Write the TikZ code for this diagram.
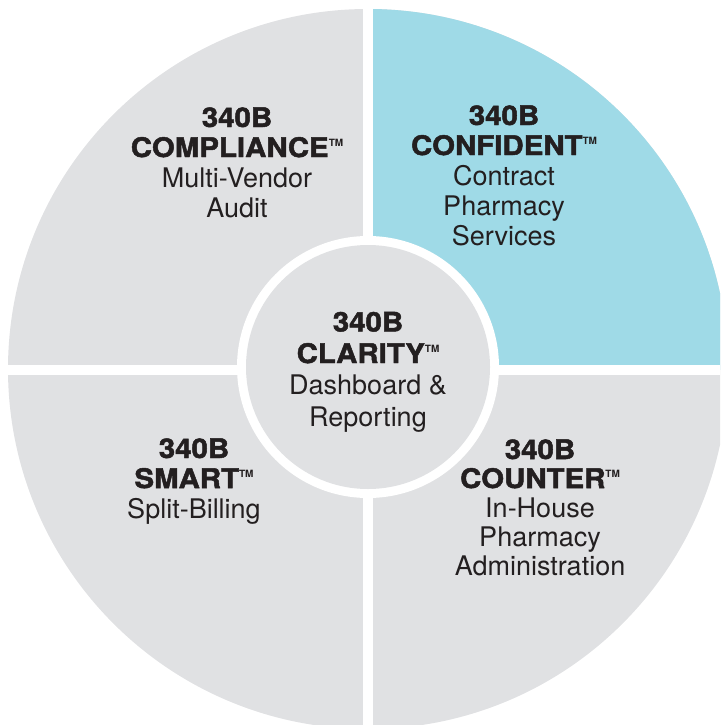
\documentclass[tikz,border=0pt]{standalone}
\usepackage{fontspec}
\setmainfont{TeX Gyre Heros}
\newfontfamily\heavyfont[FakeStretch=1.09,FakeBold=1.8]{TeX Gyre Heros Bold}
\newcommand{\hv}[1]{{\heavyfont #1}}
\newcommand{\tmk}{\raisebox{11pt}{\fontsize{10}{10}\selectfont\bfseries TM}}
\definecolor{qgray}{HTML}{E0E1E3}
\definecolor{qblue}{HTML}{9FDAE7}
\definecolor{ink}{HTML}{231F20}
\begin{document}
\begin{tikzpicture}[x=1pt,y=-1pt,
  label/.style={align=center, anchor=base, inner sep=0pt, text=ink,
    font=\fontsize{27}{30}\selectfont},
  gap/.style={white, line width=10pt}]
\useasboundingbox (0,0) rectangle (720,725);
\clip (0,0) rectangle (720,725);
\coordinate (c) at (368,369);
\fill[qgray] (c) circle[radius=360];
\begin{scope}
  \clip (368,0) rectangle (720,369);
  \fill[qblue] (c) circle[radius=360];
\end{scope}
\draw[gap] (368,0) -- (368,725);
\draw[gap] (0,370) -- (720,370);
\fill[white] (368,367) circle[radius=131];
\fill[qgray] (368,367) circle[radius=122];
\node[label] (comp) at (237,217) {\hv{340B}\\\hv{COMPLIANCE}\tmk\\Multi-Vendor\\Audit};
\node[label] (conf) at (504,245) {\hv{340B}\\\hv{CONFIDENT}\tmk\\Contract\\Pharmacy\\Services};
\node[label, font=\fontsize{27}{31.5}\selectfont] (clar) at (368,426) {\hv{340B}\\\hv{CLARITY}\tmk\\Dashboard \&\\Reporting};
\node[label] (smart) at (194,518) {\hv{340B}\\\hv{SMART}\tmk\\Split-Billing};
\node[label, font=\fontsize{27}{29}\selectfont] (count) at (540,575) {\hv{340B}\\\hv{COUNTER}\tmk\\In-House\\Pharmacy\\Administration};
\end{tikzpicture}
\end{document}
